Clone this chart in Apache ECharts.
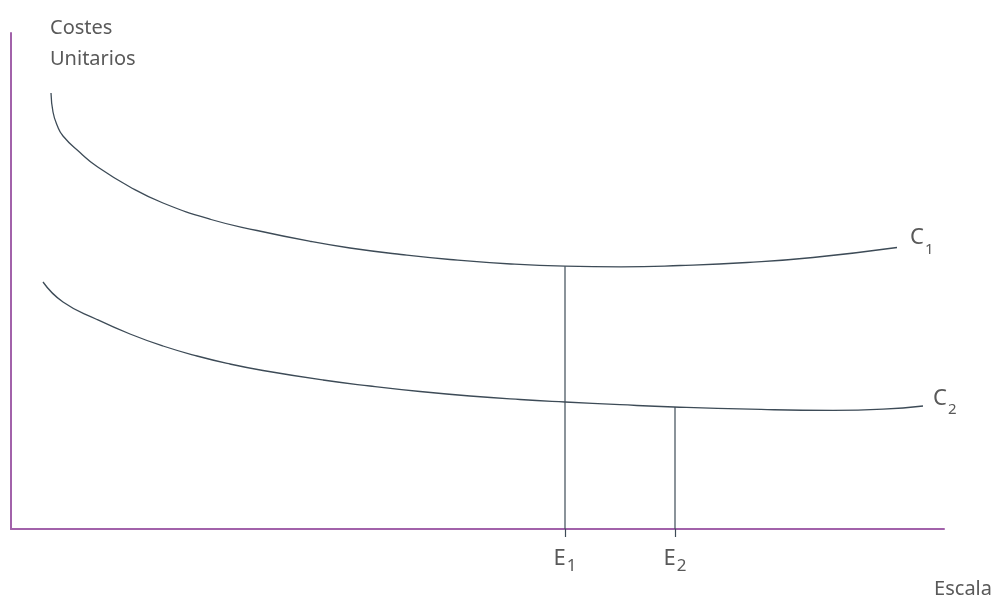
<!DOCTYPE html>
<html>
<head>
<meta charset="utf-8">
<script src="https://cdn.jsdelivr.net/npm/echarts@6/dist/echarts.min.js"></script>
<style>html,body{margin:0;padding:0;background:#fff}#c{width:997px;height:597px}</style>
</head>
<body>
<div id="c"></div>
<script>
// Curve C1 (scale, unit cost)
var c1Scale = [40, 42, 46, 52, 69, 86, 119, 152, 200, 246, 300, 339, 390, 439, 500, 554, 610, 669, 736, 802, 886];
var c1Cost  = [436, 417, 404, 393, 376.5, 362.5, 342, 326, 309.5, 298.5, 287.5, 281, 274.5, 269.5, 265, 262.8, 262.2, 263.5, 266.5, 271.5, 281.5];
// Curve C2
var c2Scale = [32, 52, 86, 119, 152, 186, 219, 252, 312, 359, 409, 459, 509, 554, 609, 663, 739, 822, 872, 912];
var c2Cost  = [247, 227, 209.5, 195, 183, 173, 165, 158.5, 149, 143, 137.5, 133, 129.5, 127, 124.3, 122, 119.8, 118.6, 119.8, 123];
// Marked scales E1, E2 and the cost on the curve where they are drawn from
var eScale = [554, 664];
var eCost = [262.8, 122];
var eNames = ['E', 'E'];
var eSubs = ['1', '2'];
var curveNames = ['C', 'C'];
var curveSubs = ['1', '2'];

var FONT = '"Noto Sans", sans-serif';
var TXT = '#595959';
var AXIS = '#a262aa';
var LINE = '#3d4b57';

function rich(subPad) {
  return {
    a: { fontFamily: FONT, fontSize: 22, lineHeight: 26, verticalAlign: 'top', color: TXT },
    b: { fontFamily: FONT, fontSize: 15, lineHeight: 16, padding: [subPad, 0, 0, 1], verticalAlign: 'top', color: TXT }
  };
}
function zip(xs, ys) { return xs.map(function (x, i) { return [x, ys[i]]; }); }

var series = [
  {
    type: 'line', name: 'C1', data: zip(c1Scale, c1Cost), smooth: true, symbol: 'none',
    lineStyle: { color: LINE, width: 1.3 },
    endLabel: { show: true, distance: 13, offset: [0, -7.5], formatter: '{a|' + curveNames[0] + '}{b|' + curveSubs[0] + '}', rich: rich(15) }
  },
  {
    type: 'line', name: 'C2', data: zip(c2Scale, c2Cost), smooth: true, symbol: 'none',
    lineStyle: { color: LINE, width: 1.3 },
    endLabel: { show: true, distance: 10, offset: [0, -5], formatter: '{a|' + curveNames[1] + '}{b|' + curveSubs[1] + '}', rich: rich(14) }
  }
];
eScale.forEach(function (x, i) {
  series.push({
    type: 'line', name: 'E' + (i + 1), data: [[x, eCost[i]], [x, 0]], symbol: 'none',
    lineStyle: { color: LINE, width: 1.2 }
  });
});

var chart = echarts.init(document.getElementById('c'), null, { renderer: 'canvas' });
chart.setOption({
  animation: false,
  backgroundColor: '#ffffff',
  grid: { left: 11, right: 53, top: 33, bottom: 68, outerBoundsMode: 'none', containLabel: false },
  xAxis: {
    type: 'value', min: 0, max: 933,
    name: 'Escala', nameLocation: 'end', nameGap: 48,
    nameTextStyle: { fontFamily: FONT, fontSize: 20, color: TXT, align: 'right', verticalAlign: 'top', lineHeight: 24, padding: [48, 0, 0, 0] },
    axisLine: { show: true, lineStyle: { color: AXIS, width: 2 } },
    axisTick: { show: true, customValues: eScale, length: 8, inside: false, lineStyle: { color: LINE, width: 1.2 } },
    axisLabel: {
      show: true, customValues: eScale, margin: 19,
      formatter: function (v) { var i = eScale.indexOf(v); return '{a|' + eNames[i] + '}{b|' + eSubs[i] + '}'; },
      rich: {
        a: { fontFamily: FONT, fontSize: 22, lineHeight: 26, verticalAlign: 'top', color: TXT },
        b: { fontFamily: FONT, fontSize: 17, lineHeight: 18, padding: [10, 0, 0, 1], verticalAlign: 'top', color: TXT }
      }
    },
    splitLine: { show: false }
  },
  yAxis: {
    type: 'value', min: 0, max: 496,
    name: 'Costes\nUnitarios', nameLocation: 'end', nameGap: 20,
    nameTextStyle: { fontFamily: FONT, fontSize: 20, color: TXT, align: 'left', verticalAlign: 'top', lineHeight: 31, padding: [0, 0, 0, 39] },
    axisLine: { show: true, lineStyle: { color: AXIS, width: 2 } },
    axisTick: { show: false },
    axisLabel: { show: false },
    splitLine: { show: false }
  },
  series: series
});
</script>
</body>
</html>
